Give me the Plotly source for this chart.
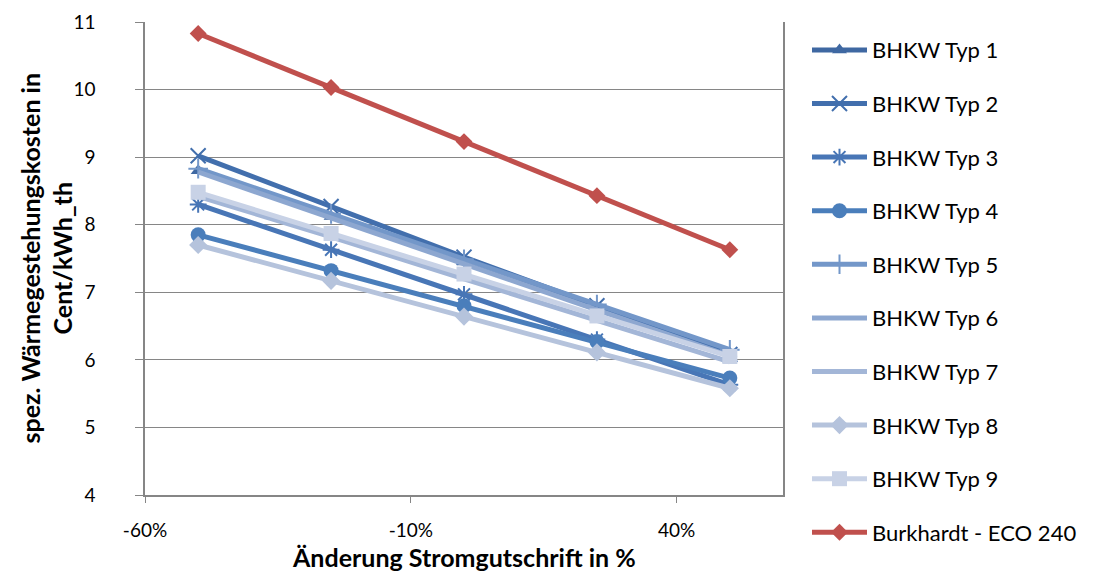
import plotly.graph_objects as go

x_change = [-50, -25, 0, 25, 50]
x_tickvals = [-60, -10, 40]
x_ticktext = ["-60%", "-10%", "40%"]

typ1 = [8.80, 8.12, 7.45, 6.78, 6.10]
typ2 = [9.02, 8.27, 7.52, 6.80, 6.08]
typ3 = [8.30, 7.63, 6.97, 6.30, 5.63]
typ4 = [7.85, 7.32, 6.80, 6.27, 5.73]
typ5 = [8.83, 8.16, 7.49, 6.82, 6.15]
typ6 = [8.78, 8.10, 7.42, 6.74, 6.06]
typ7 = [8.42, 7.82, 7.20, 6.58, 5.97]
typ8 = [7.70, 7.17, 6.64, 6.11, 5.58]
typ9 = [8.48, 7.87, 7.27, 6.65, 6.05]
burkhardt = [10.83, 10.03, 9.23, 8.43, 7.63]

names = ["BHKW Typ 1", "BHKW Typ 2", "BHKW Typ 3", "BHKW Typ 4", "BHKW Typ 5",
         "BHKW Typ 6", "BHKW Typ 7", "BHKW Typ 8", "BHKW Typ 9", "Burkhardt - ECO 240"]
series = [typ1, typ2, typ3, typ4, typ5, typ6, typ7, typ8, typ9, burkhardt]
colors = ["#3F68A2", "#426FAD", "#4876B6", "#4A7EBB", "#7397C9",
          "#8DA7D0", "#A3B6D7", "#B5C3DC", "#C8D2E6", "#C0504D"]
symbols = ["triangle-up", "x-thin", "asterisk", "circle", "cross-thin",
           None, None, "diamond", "square", "diamond"]
sizes = [13, 15, 14, 15, 14, 0, 0, 14, 15, 13]

x_title = "<b>Änderung Stromgutschrift in %</b>"
y_title = "<b>spez. Wärmegestehungskosten in<br>Cent/kWh_th</b>"

fig = go.Figure()
for i, (nm, ys, c, s, sz) in enumerate(zip(names, series, colors, symbols, sizes)):
    if s is None:
        mode = "lines"
        marker = dict()
    else:
        mode = "lines+markers"
        if s.endswith("thin") or s == "asterisk":
            marker = dict(symbol=s, size=sz, color=c, line=dict(color=c, width=2))
        else:
            marker = dict(symbol=s, size=sz, color=c, line=dict(width=0))
    fig.add_trace(go.Scatter(
        x=x_change, y=ys, name=nm, mode=mode,
        line=dict(color=c, width=5), marker=marker,
        legendgroup=f"g{i}",
    ))

fig.update_layout(
    width=1086, height=566,
    margin=dict(l=137, r=311, t=14, b=79, autoexpand=False),
    paper_bgcolor="white", plot_bgcolor="white",
    font=dict(family="Lato, 'Open Sans', sans-serif", size=19, color="#000000"),
    legend=dict(
        x=662 / 638, xanchor="left", y=0.985, yanchor="top",
        font=dict(size=22), tracegroupgap=22, itemwidth=55,
        bgcolor="rgba(0,0,0,0)", maxheight=560,
    ),
    showlegend=True,
)
fig.add_annotation(
    text=y_title, textangle=-90, showarrow=False,
    xref="paper", yref="paper", x=(38 - 137) / 638, y=0.5,
    xanchor="center", yanchor="middle",
    font=dict(size=25, color="#000000"),
)
fig.add_annotation(
    text=x_title, showarrow=False,
    xref="paper", yref="paper", x=0.5, y=-(549 - 487) / 473,
    xanchor="center", yanchor="middle",
    font=dict(size=25, color="#000000"),
)
fig.update_xaxes(
    range=[-60, 60], tickvals=x_tickvals, ticktext=x_ticktext,
    showgrid=False, zeroline=False,
    showline=True, linecolor="#868686", linewidth=1.5,
    ticks="outside", ticklen=6, tickcolor="#868686",
    tickfont=dict(size=19), ticklabelstandoff=11,
)
fig.update_yaxes(
    range=[4, 11], dtick=1,
    showgrid=True, gridcolor="#868686", gridwidth=1.2,
    zeroline=False,
    showline=True, linecolor="#868686", linewidth=1.5, mirror=True,
    ticks="outside", ticklen=8, tickcolor="#868686",
    tickfont=dict(size=19), ticklabelstandoff=36,
)

fig.write_html("out.html")
